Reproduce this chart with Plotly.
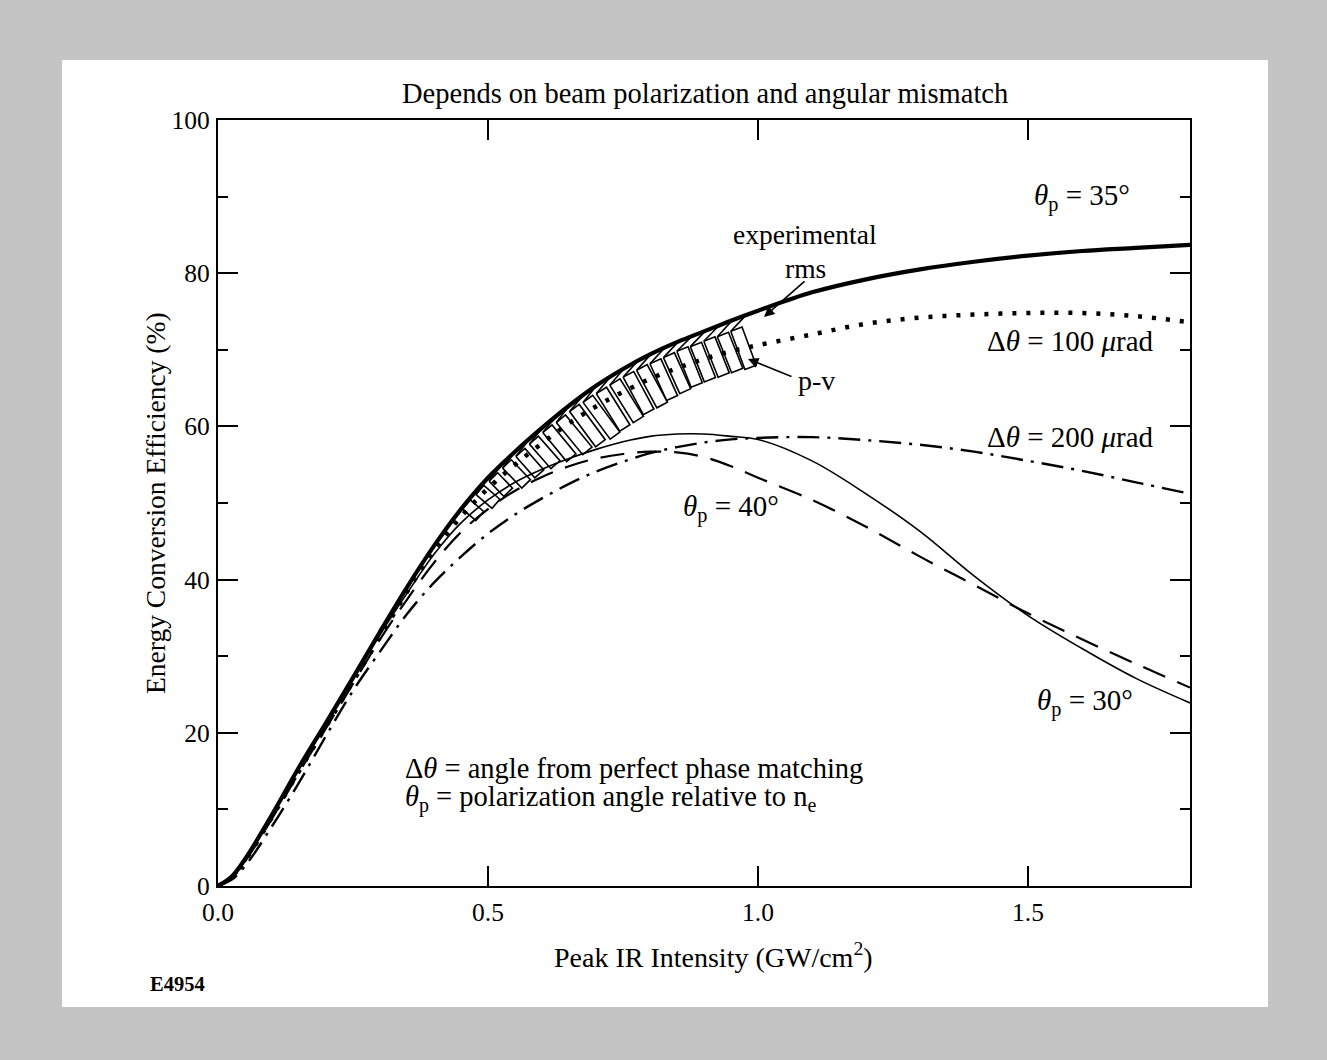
import numpy as np
import plotly.graph_objects as go

# ---------------- data ----------------
intensity = [0, .025, .05, .1, .15, .2, .25, .3, .35, .4, .45, .5, .55, .6, .65, .7, .75, .8, .85, .9, .95,
             1.0, 1.1, 1.2, 1.3, 1.4, 1.5, 1.6, 1.7, 1.8]

eff_tp35 = [0, 1.2, 3.5, 9.3, 15.5, 21.3, 27.2, 33.2, 39.0, 44.4, 49.2, 53.3, 56.7, 59.8, 62.7, 65.3, 67.5,
            69.4, 71.0, 72.4, 73.8, 75.1, 77.5, 79.2, 80.5, 81.5, 82.3, 82.9, 83.3, 83.7]
eff_dt100 = [0, 1.1, 3.3, 9.0, 15.0, 20.8, 26.7, 32.5, 38.4, 43.8, 48.2, 51.9, 55.0, 57.8, 60.4, 62.6, 64.5,
             66.2, 67.6, 68.8, 69.8, 70.6, 72.0, 73.4, 74.2, 74.6, 74.8, 74.8, 74.4, 73.6]
eff_tp30 = [0, 1.1, 3.4, 9.2, 15.3, 21.0, 26.9, 32.8, 38.2, 43.3, 47.4, 50.4, 52.7, 54.4, 55.8, 57.0, 58.0,
            58.7, 59.0, 59.0, 58.7, 58.3, 55.5, 51.2, 46.3, 40.5, 35.3, 31.0, 27.1, 23.9]
eff_dt200 = [0, 0.8, 2.6, 7.8, 13.5, 19.6, 25.5, 30.6, 35.5, 39.6, 43.0, 46.0, 48.5, 50.6, 52.5, 54.1, 55.4,
             56.5, 57.3, 57.9, 58.3, 58.5, 58.6, 58.2, 57.6, 56.7, 55.5, 54.2, 52.7, 51.2]
eff_tp40 = [0, 1.0, 3.2, 8.8, 14.8, 20.6, 26.4, 32.2, 37.4, 42.2, 46.2, 49.2, 51.6, 53.4, 54.8, 55.8, 56.4,
            56.7, 56.6, 56.0, 54.8, 53.3, 50.4, 46.9, 43.0, 39.3, 35.6, 32.2, 29.0, 25.9]

# experimental p-v band (box tops / bottoms)
pv_x = [0.46, 0.485, 0.51, 0.535, 0.56, 0.585, 0.61, 0.635, 0.66, 0.685, 0.71, 0.735, 0.76, 0.785,
        0.81, 0.835, 0.86, 0.885, 0.91, 0.935, 0.96]
pv_hi = [49.8, 51.7, 53.4, 55.1, 56.6, 58.2, 59.7, 61.0, 62.4, 63.6, 64.7, 65.8, 66.8, 67.7, 68.5,
         69.3, 70.1, 70.7, 71.4, 72.0, 72.7]
pv_lo = [48.3, 49.9, 51.4, 52.5, 53.8, 55.0, 55.9, 56.8, 57.8, 58.8, 59.8, 60.9, 61.9, 62.8, 63.7,
         64.6, 65.4, 66.1, 66.7, 67.3, 67.7]

x_ticks = [0.0, 0.5, 1.0, 1.5]
x_tick_labels = ["0.0", "0.5", "1.0", "1.5"]
y_ticks = [0, 20, 40, 60, 80, 100]
y_tick_labels = ["0", "20", "40", "60", "80", "100"]

# ---------------- layout geometry ----------------
W, H = 1327, 1060
L, R, T, B = 218, 1190, 120, 886
X_MAX, Y_MAX = 1.8, 100
KX = (R - L) / X_MAX      # px per x unit
KY = (B - T) / Y_MAX      # px per y unit
SERIF = "Liberation Serif, Times New Roman, serif"
FRAME = "#c4c4c4"


def P(px, py):
    return (px - L) / (R - L), (B - py) / (B - T)


fig = go.Figure()

common = dict(mode="lines", line_shape="spline", hoverinfo="skip", showlegend=False)
fig.add_trace(go.Scatter(x=intensity, y=eff_dt200, line=dict(color="black", width=2.4, dash="22px,8px,3px,8px"), **common))
fig.add_trace(go.Scatter(x=intensity, y=eff_tp40, line=dict(color="black", width=2.2, dash="24px,13px"), **common))
fig.add_trace(go.Scatter(x=intensity, y=eff_tp30, line=dict(color="black", width=1.6), **common))
fig.add_trace(go.Scatter(x=intensity, y=eff_dt100, line=dict(color="black", width=4.5, dash="4px,10px"), **common))
fig.add_trace(go.Scatter(x=intensity, y=eff_tp35, line=dict(color="black", width=4.2), **common))

# p-v boxes (tilted perpendicular to the curve) and rms hatches
tx_arr = np.array(intensity)
ty_arr = np.array(eff_tp35)


def thick_at(x):
    return float(np.interp(x, tx_arr, ty_arr))


HALF_W = 6.0
bx, by, hx, hy = [], [], [], []
for xc, hi, lo in zip(pv_x, pv_hi, pv_lo):
    d = 0.01
    s = (thick_at(xc + d) - thick_at(xc - d)) / (2 * d) * KY / KX
    drop = (hi - lo) * KY
    shift = s * drop
    nrm = np.hypot(1, s)
    tx, ty = HALF_W / nrm, HALF_W * s / nrm
    pts = [(-tx, -ty), (tx, ty), (tx + shift, ty - drop), (-tx + shift, -ty - drop), (-tx, -ty)]
    for ppx, ppy in pts:
        bx.append(xc + ppx / KX)
        by.append(hi + ppy / KY)
    bx.append(None)
    by.append(None)
    x0 = xc - tx / KX
    y0 = hi - ty / KY
    x1 = xc + (tx + 4) / KX
    hx += [x0, x1, None]
    hy += [y0, thick_at(x1), None]

fig.add_trace(go.Scatter(x=bx, y=by, mode="lines", line=dict(color="black", width=1.6),
                         hoverinfo="skip", showlegend=False))
fig.add_trace(go.Scatter(x=hx, y=hy, mode="lines", line=dict(color="black", width=1.6),
                         hoverinfo="skip", showlegend=False))

# ---------------- annotations ----------------
ann = []


def text(px, py, s, size=28, xanchor="center", yanchor="middle"):
    x, y = P(px, py)
    ann.append(dict(x=x, y=y, xref="paper", yref="paper", text=s, showarrow=False,
                    xanchor=xanchor, yanchor=yanchor, font=dict(family=SERIF, size=size, color="black")))


text(705, 93, "Depends on beam polarization and angular mismatch", 28.5)
text(713, 955, "Peak IR Intensity (GW/cm<sup>2</sup>)", 28)
text(148, 984, "<b>E4954</b>", 20.5, xanchor="left")
text(1082, 197, "<i>θ</i><sub>p</sub> = 35°", 29)
text(805, 252, "experimental", 27.5, yanchor="bottom")
text(805, 251, "rms", 27.5, yanchor="top")
text(1070, 341, "Δ<i>θ</i> = 100 <i>μ</i>rad", 29)
text(816, 380, "p-v", 28)
text(1070, 437, "Δ<i>θ</i> = 200 <i>μ</i>rad", 29)
text(731, 508, "<i>θ</i><sub>p</sub> = 40°", 29)
text(1085, 702, "<i>θ</i><sub>p</sub> = 30°", 29)
text(403, 768, "Δ<i>θ</i> = angle from perfect phase matching", 28.5, xanchor="left")
text(403, 799, "<i>θ</i><sub>p</sub> = polarization angle relative to n<sub>e</sub>", 28.5, xanchor="left")

yx, yy = P(155, 503)
ann.append(dict(x=yx, y=yy, xref="paper", yref="paper", text="Energy Conversion Efficiency (%)",
                showarrow=False, textangle=-90, xanchor="center", yanchor="middle",
                font=dict(family=SERIF, size=27.5, color="black")))


def arrow(hx_px, hy_px, tx_px, ty_px):
    x, y = P(hx_px, hy_px)
    ann.append(dict(x=x, y=y, xref="paper", yref="paper", ax=tx_px - hx_px, ay=ty_px - hy_px,
                    axref="pixel", ayref="pixel", text="", showarrow=True, arrowhead=2,
                    arrowsize=1.3, arrowwidth=1.6, arrowcolor="black"))


arrow(764, 317, 806, 280)
arrow(748, 359, 793, 377)

# ---------------- frame ----------------
fx0, fy0 = P(62, 1007)
fx1, fy1 = P(1268, 60)
shapes = [dict(type="rect", xref="paper", yref="paper", x0=fx0, y0=fy0, x1=fx1, y1=fy1,
               fillcolor="white", line=dict(width=0), layer="below")]

axis_common = dict(showline=True, linecolor="black", linewidth=2.2, mirror="ticks",
                   ticks="inside", ticklen=20, tickwidth=2, tickcolor="black",
                   showgrid=False, zeroline=False,
                   tickfont=dict(family=SERIF, size=25.5, color="black"))

fig.update_layout(
    width=W, height=H,
    margin=dict(l=L, r=W - R, t=T, b=H - B, pad=0),
    paper_bgcolor=FRAME, plot_bgcolor="white",
    xaxis=dict(range=[0, X_MAX], tickvals=x_ticks, ticktext=x_tick_labels, ticklabelstandoff=2,
               **axis_common),
    yaxis=dict(range=[0, Y_MAX], tickvals=y_ticks, ticktext=y_tick_labels, ticklabelstandoff=1,
               minor=dict(dtick=10, ticklen=10, tickwidth=2, tickcolor="black", ticks="inside", showgrid=False),
               **axis_common),
    annotations=ann, shapes=shapes,
)

fig.write_html("out.html", config={"displayModeBar": False},
               post_script="document.body.style.margin='0';document.body.style.background='%s';" % FRAME)
